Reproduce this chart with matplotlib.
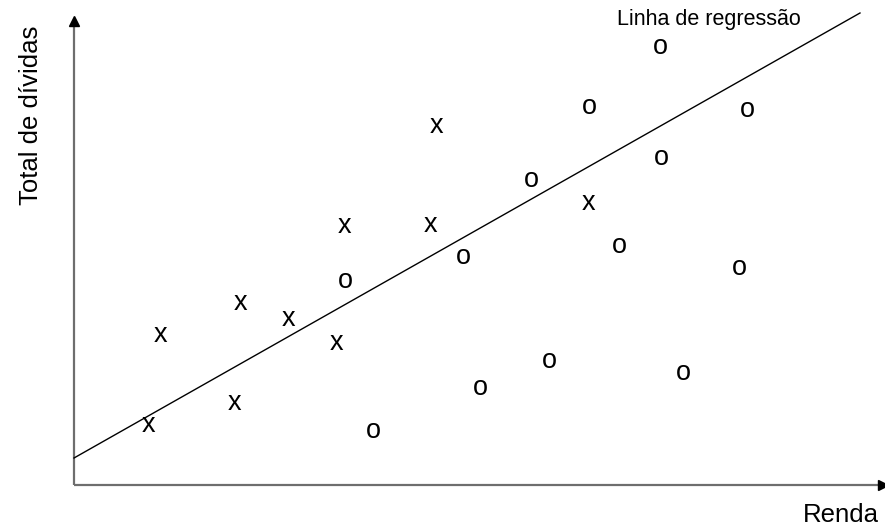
import matplotlib
matplotlib.use("Agg")
import matplotlib.pyplot as plt

# Data (origin at the axes crossing)
x_group_x = [86, 167, 215, 270, 263, 160, 74, 363, 356, 514]
x_group_y = [150, 182, 166, 259, 142, 82, 60, 359, 260, 282]
o_group_x = [586, 515, 673, 587, 457, 545, 389, 271, 665, 475, 609, 406, 299]
o_group_y = [438, 378, 375, 327, 305, 239, 228, 204, 217, 124, 112, 97, 54]
line_x = [0, 786]
line_y = [27, 472]

FONT = "Liberation Sans"
fig = plt.figure(figsize=(8.85, 5.3), dpi=100)
ax = fig.add_axes([0, 0, 1, 1])
ax.set_xlim(-74, 811)
ax.set_ylim(-45, 485)
ax.axis("off")

axis_col = "#6e6e6e"
ax.plot([0, 0], [0, 462], color=axis_col, lw=1.6, solid_capstyle="butt")
ax.plot([0, 806], [0, 0], color=axis_col, lw=1.6, solid_capstyle="butt")
ax.plot([0], [464], marker="^", color="black", markersize=7, clip_on=False)
ax.plot([809], [0], marker=">", color="black", markersize=7, clip_on=False)

ax.plot(line_x, line_y, color="black", lw=1.0)

for xv, yv in zip(x_group_x, x_group_y):
    ax.annotate("x", (xv, yv), xytext=(0, -5.0), textcoords="offset points",
                ha="center", va="baseline", fontsize=19.5, family=FONT)
for xv, yv in zip(o_group_x, o_group_y):
    ax.annotate("o", (xv, yv), xytext=(0, -5.0), textcoords="offset points",
                ha="center", va="baseline", fontsize=19.5, family=FONT)

ax.text(543, 465, "Linha de regressão", fontsize=15.5, family=FONT,
        ha="left", va="center")
ax.text(-43, 370, "Total de dívidas", fontsize=18.5, family=FONT,
        rotation=90, ha="center", va="center")
ax.text(767, -30, "Renda", fontsize=18.5, family=FONT, ha="center", va="center")

fig.savefig("out.png", dpi=100)
